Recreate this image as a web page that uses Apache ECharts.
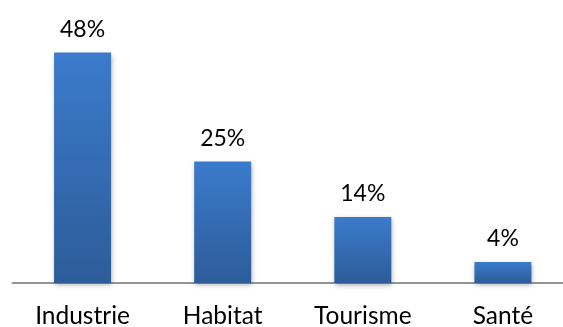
<!DOCTYPE html>
<html>
<head>
<meta charset="utf-8">
<script src="https://cdn.jsdelivr.net/npm/echarts@6/dist/echarts.min.js"></script>
<style>
  html, body { margin: 0; padding: 0; background: #fff; }
  #main { width: 563px; height: 327px; }
</style>
</head>
<body>
<div id="main"></div>
<script>
  // secteurs et parts (%)
  var categories = ["Industrie", "Habitat", "Tourisme", "Santé"];
  var values = [48.2, 25.4, 13.8, 4.4];

  var chartDom = document.getElementById("main");
  var myChart = echarts.init(chartDom);

  var option = {
    animation: false,
    grid: {
      left: 12.5,
      width: 560.5,
      top: 44,
      bottom: 44,
      outerBoundsMode: "none",
      containLabel: false,
    },
    xAxis: {
      type: "category",
      data: categories,
      axisTick: { show: false },
      axisLine: { lineStyle: { color: "#959595", width: 2 } },
      axisLabel: {
        color: "#000",
        fontFamily: "Lato",
        fontSize: 24.5,
        margin: 21,
      },
    },
    yAxis: {
      type: "value",
      min: 0,
      max: 50,
      show: false,
      splitLine: { show: false },
    },
    series: [
      {
        type: "bar",
        data: values,
        barWidth: 57,
        itemStyle: {
          color: new echarts.graphic.LinearGradient(0, 0, 0, 1, [
            { offset: 0, color: "#3b7bcc" },
            { offset: 1, color: "#2d5c99" },
          ]),
          shadowColor: "rgba(0,0,0,0.35)",
          shadowBlur: 5,
          shadowOffsetX: 1,
          shadowOffsetY: 2,
        },
        label: {
          show: true,
          position: "top",
          distance: 12,
          color: "#000",
          fontFamily: "Lato",
          fontSize: 23,
          formatter: function (p) {
            return Math.round(p.value) + "%";
          },
        },
      },
    ],
  };
  myChart.setOption(option);
</script>
</body>
</html>
